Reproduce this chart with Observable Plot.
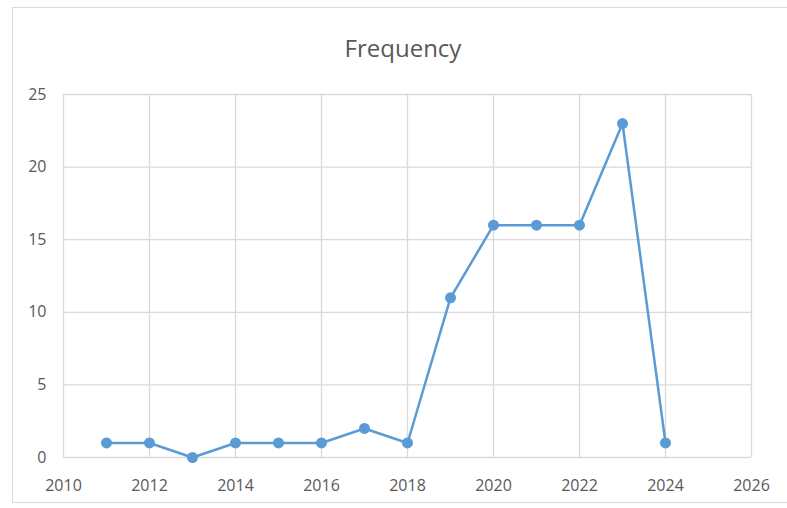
<!DOCTYPE html>
<html>
<head>
<meta charset="utf-8">
<script src="https://cdn.jsdelivr.net/npm/d3@7"></script>
<script src="https://cdn.jsdelivr.net/npm/@observablehq/plot@0.6"></script>
<style>
  html, body { margin: 0; padding: 0; background: #fff; }
  #wrap { position: relative; width: 787px; height: 508px; overflow: hidden; }
  #frame { position: absolute; left: 12px; top: 7px; width: 790px; height: 496px; border: 1.5px solid #d9d9d9; box-sizing: border-box; }
  #title { position: absolute; left: 0; top: 31px; width: 806px; text-align: center; font-family: "Open Sans", sans-serif; font-size: 24px; color: #595959; }
  #chart { position: absolute; left: 0; top: 0; }
</style>
</head>
<body>
<div id="wrap">
  <div id="frame"></div>
  <div id="title">Frequency</div>
  <div id="chart"></div>
</div>
<script>
const years = [2011, 2012, 2013, 2014, 2015, 2016, 2017, 2018, 2019, 2020, 2021, 2022, 2023, 2024];
const frequency = [1, 1, 0, 1, 1, 1, 2, 1, 11, 16, 16, 16, 23, 1];
const xTicks = [2010, 2012, 2014, 2016, 2018, 2020, 2022, 2024, 2026];
const yTicks = [0, 5, 10, 15, 20, 25];

const data = years.map((y, i) => ({year: y, value: frequency[i]}));

const chart = Plot.plot({
  width: 787,
  height: 508,
  marginLeft: 63,
  marginRight: 36,
  marginTop: 94,
  marginBottom: 51,
  style: {fontFamily: "'Open Sans', sans-serif", fontSize: "16px", color: "#595959", background: "transparent"},
  x: {domain: [2010, 2026], ticks: xTicks, tickFormat: d => String(d), tickSize: 0, tickPadding: 22, label: null},
  y: {domain: [0, 25], ticks: yTicks, tickSize: 0, tickPadding: 17, label: null},
  marks: [
    Plot.ruleX(xTicks, {stroke: "#d9d9d9", strokeWidth: 1.3}),
    Plot.ruleY(yTicks, {stroke: "#d9d9d9", strokeWidth: 1.3}),
    Plot.line(data, {x: "year", y: "value", stroke: "#5b9bd5", strokeWidth: 2.5}),
    Plot.dot(data, {x: "year", y: "value", fill: "#5b9bd5", r: 5.5})
  ]
});
document.getElementById("chart").appendChild(chart);
</script>
</body>
</html>
